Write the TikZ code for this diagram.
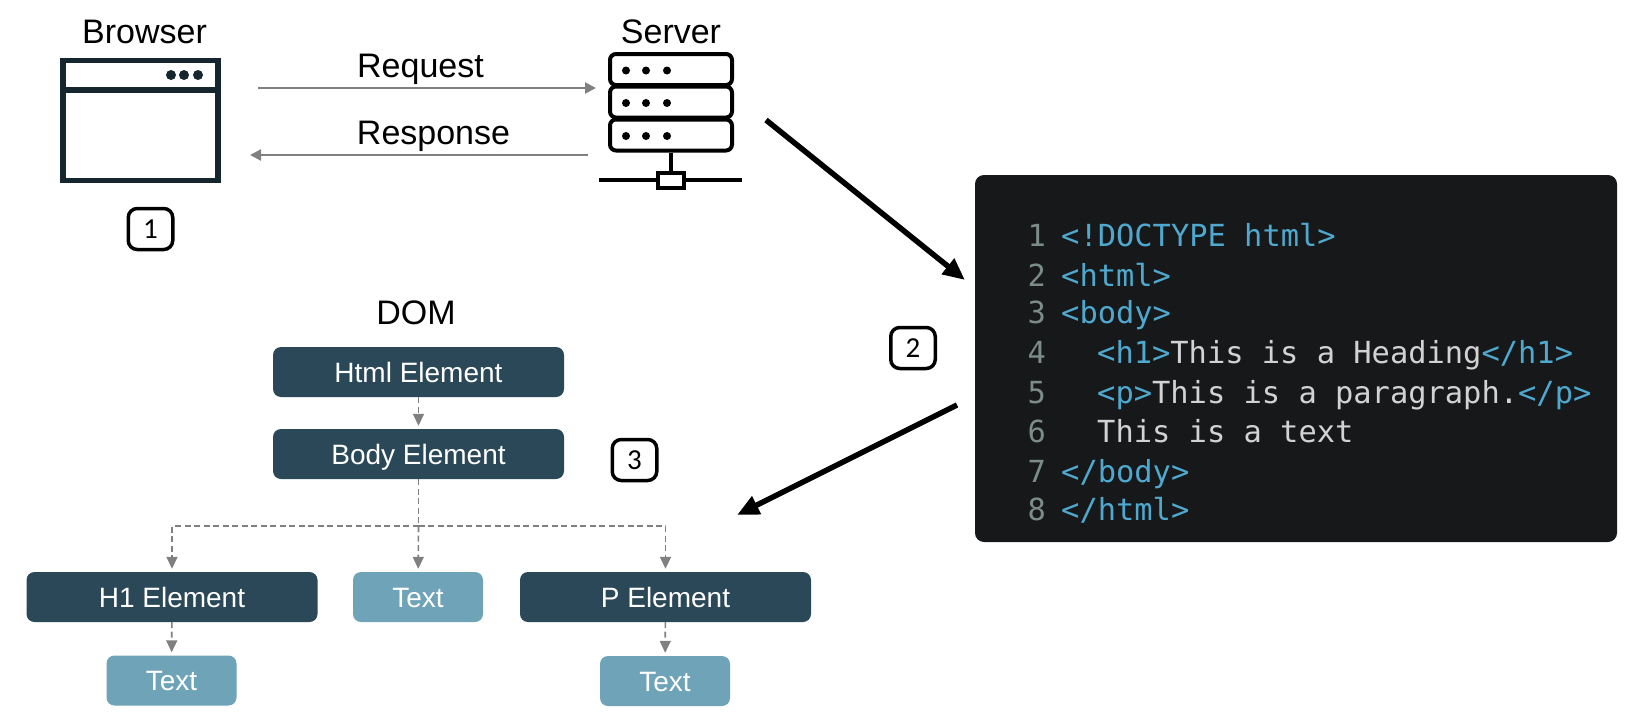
\documentclass[tikz,border=0pt]{standalone}
\usepackage{fontspec}
\setmainfont{Liberation Sans}
\newfontfamily\codefont{DejaVu Sans Mono}
\newfontfamily\badgefont{Carlito}
\usetikzlibrary{arrows.meta}
\definecolor{domdark}{HTML}{2A4858}
\definecolor{domlight}{HTML}{6FA3B8}
\definecolor{codebg}{HTML}{17181A}
\definecolor{codeblue}{HTML}{4FA9CF}
\definecolor{codetext}{HTML}{D2D2D2}
\definecolor{codenum}{HTML}{7C8C88}
\definecolor{windowline}{HTML}{15262F}
\newcommand{\tagc}[1]{\textcolor{codeblue}{#1}}
\begin{document}
\begin{tikzpicture}
          [
            x=1pt, y=-1pt,
            title/.style={anchor=base,font=\fontsize{34}{36}\selectfont},
            element/.style={rectangle,rounded corners=8pt,fill=domdark,text=white,minimum width=291pt,minimum height=50pt,inner sep=0pt,text height=20pt,text depth=0pt,font=\fontsize{28}{30}\selectfont},
            textbox/.style={element,fill=domlight,minimum width=130pt},
            badge/.style={rectangle,draw=black,line width=3.5pt,rounded corners=9pt,minimum width=44.5pt,minimum height=41pt,inner sep=0pt,font=\badgefont\fontsize{29}{30}\selectfont},
            rack/.style={rectangle,draw=black,line width=4pt,rounded corners=6pt,minimum width=122pt,minimum height=31pt,inner sep=0pt},
            msgline/.style={draw=black!50,line width=2pt,-{Triangle[length=11pt,width=11pt]}},
            domline/.style={draw=black!50,line width=1.6pt,dashed,dash pattern=on 6pt off 3.5pt,-{Triangle[length=12pt,width=11pt]},shorten >=3pt},
            bigarrow/.style={draw=black,line width=5.5pt,-{Triangle[length=22pt,width=19pt]}},
            codeline/.style={anchor=base west,inner sep=0pt,text=codetext,font=\codefont\fontsize{30.4}{32}\selectfont},
            codeno/.style={anchor=base east,inner sep=0pt,text=codenum,font=\codefont\fontsize{30.4}{32}\selectfont}
          ]
          \useasboundingbox (0,0) rectangle (1650,720);
          % browser
          \node [title] (browsertitle) at (144.5,43) {Browser};
          \node [rectangle,draw=windowline,line width=5.5pt,minimum width=155pt,minimum height=120pt] (browser) at (140.5,120.5) {};
          \draw [windowline,line width=5.5pt] (browser.west |- 0,90) -- (browser.east |- 0,90);
          \foreach \x in {171,184,198} {
              \fill [windowline] (\x,75) circle (5);
          }
          % server
          \node [title] (servertitle) at (671,43) {Server};
          \foreach \n/\y in {1/69.5,2/102,3/135} {
              \node [rack] (rack\n) at (671,\y) {};
              \foreach \x in {626,646,667} {
                  \fill (\x,\y+1) circle (4);
              }
          }
          \node [rectangle,draw=black,line width=4pt,minimum width=26pt,minimum height=15pt,inner sep=0pt] (port) at (671,180) {};
          \coordinate (netleft) at (599,180);
          \coordinate (netright) at (742,180);
          \draw [line width=4pt] (rack3.south) -- (port.north);
          \draw [line width=4pt] (netleft) -- (port.west);
          \draw [line width=4pt] (port.east) -- (netright);
          % request and response
          \coordinate (reqstart) at (258,88);
          \coordinate (reqend) at (596,88);
          \coordinate (respstart) at (588,155);
          \coordinate (respend) at (250,155);
          \draw [msgline] (reqstart) -- (reqend);
          \draw [msgline] (respstart) -- (respend);
          \node [title] (request) at (420.5,77) {Request};
          \node [title] (response) at (433.5,144) {Response};
          % badges
          \node [badge] (badgeone) at (150.5,229) {1};
          \node [badge] (badgetwo) at (913,348) {2};
          \node [badge] (badgethree) at (634.5,460) {3};
          % code
          \node [rectangle,fill=codebg,rounded corners=9pt,minimum width=642pt,minimum height=367pt] (code) at (1296,358.5) {};
          \foreach \n/\y/\x/\t in {
              1/246/1061/{\tagc{<!DOCTYPE html>}},
              2/286/1061/{\tagc{<html>}},
              3/323.5/1061/{\tagc{<body>}},
              4/363.5/1097/{\tagc{<h1>}This is a Heading\tagc{</h1>}},
              5/403.5/1097/{\tagc{<p>}This is a paragraph.\tagc{</p>}},
              6/442/1097/{This is a text},
              7/482/1061/{\tagc{</body>}},
              8/520/1061/{\tagc{</html>}}} {
              \node [codeno] (num\n) at (1046,\y) {\n};
              \node [codeline] (line\n) at (\x,\y) {\t};
          }
          % big arrows
          \coordinate (fetchstart) at (766,120);
          \coordinate (fetchend) at (965,280);
          \coordinate (parsestart) at (957,405);
          \coordinate (parseend) at (737,515);
          \draw [bigarrow] (fetchstart) -- (fetchend);
          \draw [bigarrow] (parsestart) -- (parseend);
          % dom tree
          \node [title] (dom) at (416,324) {DOM};
          \node [element] (html) at (418.5,372) {Html Element};
          \node [element] (body) at (418.5,454) {Body Element};
          \node [element] (hone) at (172,597) {H1 Element};
          \node [textbox] (midtext) at (418,597) {Text};
          \node [element] (para) at (665.5,597) {P Element};
          \node [textbox] (honetext) at (171.5,680.5) {Text};
          \node [textbox] (paratext) at (665,681) {Text};
          \coordinate (branch) at (body.south |- 0,526);
          \draw [domline] (html) -- (body);
          \draw [domline,-] (body) -- (branch);
          \draw [domline] (branch) -| (hone);
          \draw [domline] (branch) -| (para);
          \draw [domline] (branch) -- (midtext);
          \draw [domline] (hone) -- (honetext);
          \draw [domline] (para) -- (paratext);
        \end{tikzpicture}
\end{document}
